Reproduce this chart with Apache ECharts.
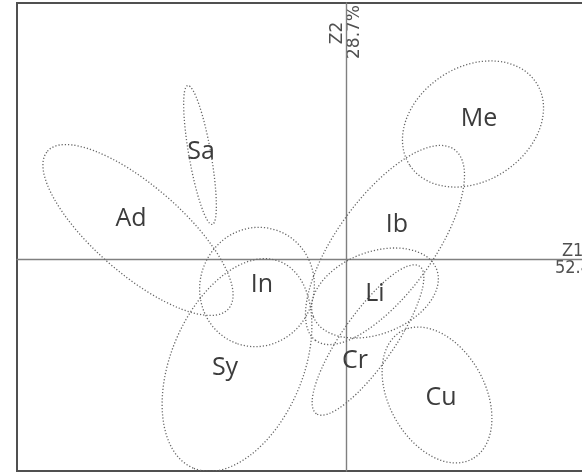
<!DOCTYPE html>
<html><head><meta charset="utf-8">
<script src="https://cdn.jsdelivr.net/npm/echarts@6/dist/echarts.min.js"></script>
<style>html,body{margin:0;padding:0;background:#fff}#c{width:582px;height:473px}</style>
</head><body><div id="c"></div>
<script>
// Groups and their 2-D confidence ellipses on the Z1 / Z2 plane
const groups    = ['Sa', 'Ad', 'Me', 'Ib', 'In', 'Sy', 'Li', 'Cr', 'Cu'];
const centerZ1  = [-2.92, -4.16, 2.54, 0.78, -1.78, -2.18, 0.58, 0.44, 1.82];
const centerZ2  = [ 2.08,  0.58, 2.70, 0.28, -0.56, -2.12, -0.68, -1.62, -2.72];
const semiMajor = [1.41, 2.40, 1.51, 2.36, 1.20, 2.24, 1.32, 1.80, 1.46];
const semiMinor = [0.22, 0.88, 1.14, 0.96, 1.14, 1.32, 0.82, 0.52, 0.96];
const angleDeg  = [100, -41, 33, 54, 70, 67, 21, 55, 119];
const labelZ1   = [-2.90, -4.30, 2.66, 1.02, -1.68, -2.42, 0.58, 0.18, 1.90];
const labelZ2   = [ 2.14,  0.80, 2.80, 0.68, -0.52, -2.18, -0.70, -2.04, -2.78];
const axisNames = ['Z1', 'Z2'];
const axisShare = ['52.4%', '28.7%'];
const z1Range   = [-6.58, 4.72];
const z2Range   = [-4.24, 5.12];

const chart = echarts.init(document.getElementById('c'), null, {renderer: 'canvas'});

const ellipseData = groups.map((g, i) => [centerZ1[i], centerZ2[i], semiMajor[i], semiMinor[i], angleDeg[i]]);
const labelData = groups.map((g, i) => ({name: g, value: [labelZ1[i], labelZ2[i]]}));

const LINE = '#666';
const axisLineStyle = {color: '#808080', width: 1.4};

chart.setOption({
  animation: false,
  backgroundColor: '#fff',
  grid: {left: 17, top: 3, right: 0, bottom: 2, show: false},
  xAxis: {
    type: 'value', min: z1Range[0], max: z1Range[1],
    axisLine: {show: true, onZero: true, lineStyle: axisLineStyle},
    axisTick: {show: false}, axisLabel: {show: false}, splitLine: {show: false}
  },
  yAxis: {
    type: 'value', min: z2Range[0], max: z2Range[1],
    axisLine: {show: true, onZero: true, lineStyle: axisLineStyle},
    axisTick: {show: false}, axisLabel: {show: false}, splitLine: {show: false}
  },
  series: [
    {
      type: 'custom',
      data: ellipseData,
      encode: {x: 0, y: 1},
      clip: true,
      renderItem: function (params, api) {
        const c = api.coord([api.value(0), api.value(1)]);
        const s = api.size([api.value(2), api.value(3)]);
        return {
          type: 'ellipse',
          x: c[0], y: c[1],
          rotation: api.value(4) * Math.PI / 180,
          shape: {cx: 0, cy: 0, rx: s[0], ry: s[1]},
          style: {fill: null, stroke: LINE, lineWidth: 1.3, lineDash: [1.2, 2.0]}
        };
      }
    },
    {
      type: 'custom',
      data: labelData,
      encode: {x: 0, y: 1},
      renderItem: function (params, api) {
        const c = api.coord([api.value(0), api.value(1)]);
        return {
          type: 'text',
          x: c[0], y: c[1],
          style: {
            text: groups[params.dataIndex],
            font: '25px "Open Sans", "Noto Sans", sans-serif',
            fill: '#3c3c3c', align: 'center', verticalAlign: 'middle'
          }
        };
      }
    }
  ]
});

// frame (left, top, bottom) and axis captions, placed from the axes' own pixel mapping
const o  = chart.convertToPixel({gridIndex: 0}, [0, 0]);
const tl = chart.convertToPixel({gridIndex: 0}, [z1Range[0], z2Range[1]]);
const br = chart.convertToPixel({gridIndex: 0}, [z1Range[1], z2Range[0]]);
const frameStyle = {stroke: '#505050', lineWidth: 2, fill: null};
const vFont = '17px "DejaVu Sans", sans-serif';
const hFont = '18px "Liberation Sans Narrow", "DejaVu Sans Condensed", "DejaVu Sans", sans-serif';
chart.setOption({
  graphic: [
    {type: 'polyline', shape: {points: [[br[0] + 2, tl[1]], [tl[0], tl[1]], [tl[0], br[1]], [br[0] + 2, br[1]]]}, style: frameStyle},
    {type: 'text', x: o[0] - 8, y: tl[1] + 30, rotation: Math.PI / 2,
     style: {text: axisNames[1], font: vFont, fill: '#505050', align: 'center', verticalAlign: 'middle'}},
    {type: 'text', x: o[0] + 9, y: tl[1] + 29, rotation: Math.PI / 2,
     style: {text: axisShare[1], font: vFont, fill: '#505050', align: 'center', verticalAlign: 'middle'}},
    {type: 'text', x: br[0] - 20, y: o[1] - 8,
     style: {text: axisNames[0], font: hFont, fill: '#505050', align: 'left', verticalAlign: 'middle'}},
    {type: 'text', x: br[0] - 27, y: o[1] + 9,
     style: {text: axisShare[0], font: hFont, fill: '#505050', align: 'left', verticalAlign: 'middle'}}
  ]
});
</script>
</body></html>
